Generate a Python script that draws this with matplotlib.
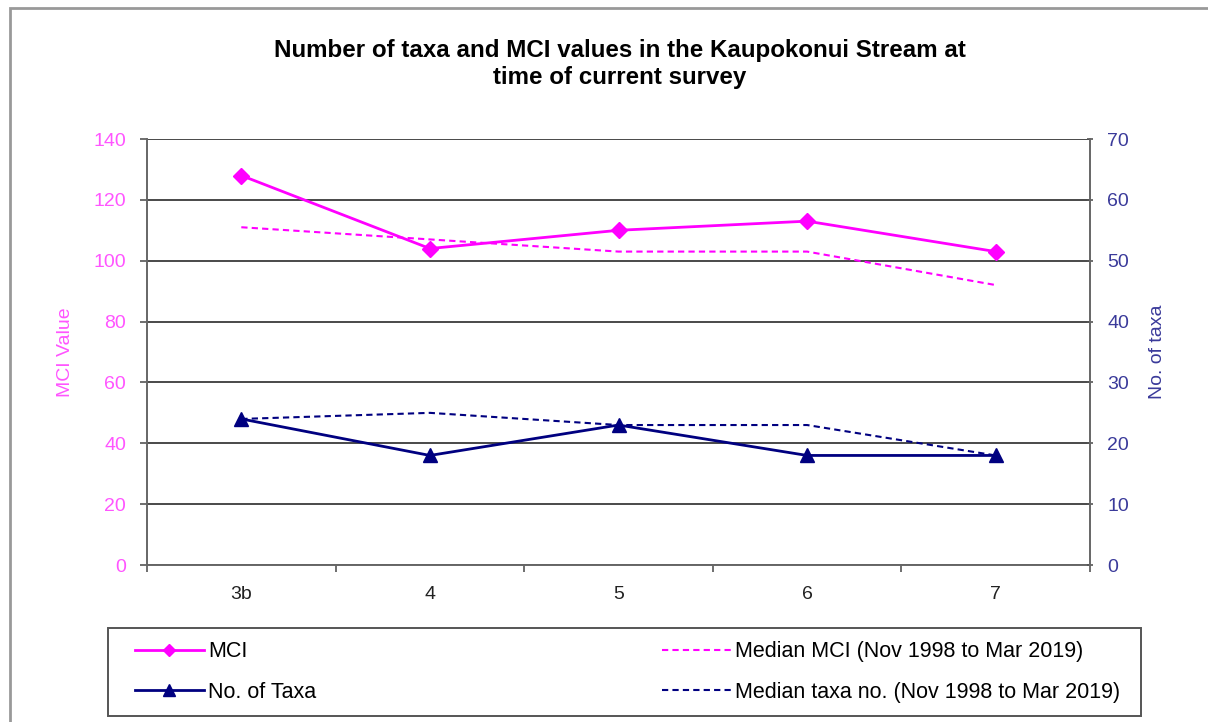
import matplotlib.pyplot as plt
from matplotlib.patches import Rectangle

plt.rcParams["font.family"] = ["Liberation Sans", "DejaVu Sans"]

# Sites along the Kaupokonui Stream
sites = ["3b", "4", "5", "6", "7"]
mci = [128, 104, 110, 113, 103]
median_mci = [111, 107, 103, 103, 92]
taxa = [24, 18, 23, 18, 18]
median_taxa = [24, 25, 23, 23, 18]

magenta = "#FF00FF"
navy = "#000080"
grid_col = "#3a3a3a"

W, H = 1208, 722
fig = plt.figure(figsize=(W / 100, H / 100), dpi=100)
ax1 = fig.add_axes([147 / W, 1 - 565 / H, 943 / W, 426 / H])
ax2 = ax1.twinx()

x = list(range(len(sites)))

l1, = ax1.plot(x, mci, color=magenta, lw=2, marker="D", ms=8, label="MCI", zorder=5)
l2, = ax1.plot(x, median_mci, color=magenta, lw=1.5, ls=(0, (3, 2)),
               label="Median MCI (Nov 1998 to Mar 2019)", zorder=4)
l3, = ax2.plot(x, taxa, color=navy, lw=2, marker="^", ms=10, label="No. of Taxa", zorder=5)
l4, = ax2.plot(x, median_taxa, color=navy, lw=1.5, ls=(0, (3, 2)),
               label="Median taxa no. (Nov 1998 to Mar 2019)", zorder=4)

ax1.set_xlim(-0.5, 4.5)
ax1.set_ylim(0, 140)
ax2.set_ylim(0, 70)
ax1.set_yticks(range(0, 141, 20))
ax2.set_yticks(range(0, 71, 10))

# category labels centred, tick marks on the boundaries
ax1.set_xticks(x)
ax1.set_xticklabels(sites)
ax1.set_xticks([i + 0.5 for i in range(-1, 5)], minor=True)
ax1.tick_params(axis="x", which="major", length=0, pad=15, labelsize=14, labelcolor="#222222")
ax1.tick_params(axis="x", which="minor", length=5, direction="out", color="#555555", width=1.2)

ax1.grid(axis="y", color=grid_col, lw=1.3)
ax1.set_axisbelow(True)

ax1.tick_params(axis="y", length=5, direction="out", color="#555555", width=1.2,
                labelsize=14, labelcolor="#FF55FF", pad=10)
ax2.tick_params(axis="y", length=5, direction="inout", color="#555555", width=1.2,
                labelsize=14, labelcolor="#3A3A9A", pad=10)

for ax in (ax1, ax2):
    ax.spines["top"].set_visible(False)
    for side in ("left", "right", "bottom"):
        ax.spines[side].set_color("#666666")
        ax.spines[side].set_linewidth(1.4)
ax1.spines["right"].set_visible(False)
ax2.spines["left"].set_visible(False)
ax2.spines["bottom"].set_visible(False)

ax1.set_ylabel("MCI Value", color="#FF55FF", fontsize=14, labelpad=14)
ax2.set_ylabel("No. of taxa", color="#3A3A9A", fontsize=14, labelpad=14)

fig.text(620 / W, 1 - 64 / H, "Number of taxa and MCI values in the Kaupokonui Stream at\ntime of current survey",
         ha="center", va="center", fontsize=17.4, fontweight="bold", linespacing=1.2)

# legend box drawn separately so the side padding can be wider than the top/bottom
fig.patches.append(Rectangle((108 / W, 1 - 716 / H), (1141 - 108) / W, (716 - 628) / H,
                             transform=fig.transFigure, fill=False, edgecolor="#555555", lw=1.4))
fig.legend(handles=[l1, l3, l2, l4], ncol=2, mode="expand", loc="center",
           bbox_to_anchor=(135 / W, 1 - 716 / H, (1120 - 135) / W, (716 - 628) / H),
           borderaxespad=0, borderpad=0, fontsize=15.5, handlelength=3.2, handletextpad=0.2,
           labelspacing=0.9, frameon=False, markerscale=0.8)

# outer chart border
fig.patches.append(Rectangle((10 / W, -0.01), 1.02, 1 - 8 / H + 0.01, transform=fig.transFigure,
                             fill=False, edgecolor="#999999", lw=2))

fig.savefig("out.png", dpi=100)
